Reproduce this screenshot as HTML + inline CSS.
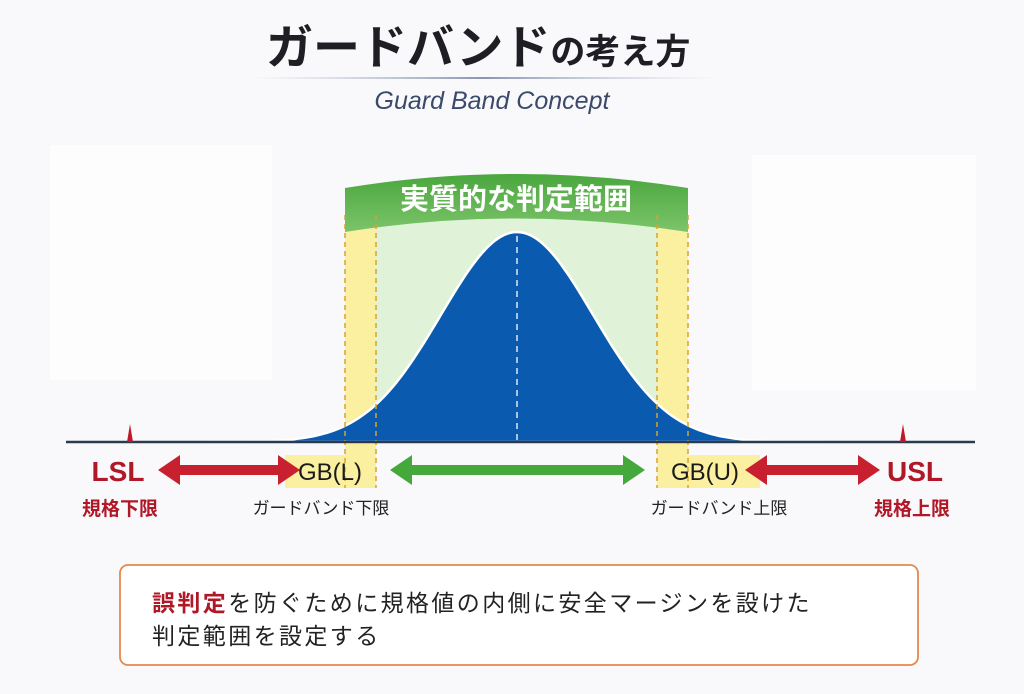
<!DOCTYPE html>
<html><head><meta charset="utf-8"><style>
html,body{margin:0;padding:0;background:#f9f9fb;}
body{width:1024px;height:694px;overflow:hidden;position:relative;font-family:"Liberation Sans","Noto Sans CJK JP",sans-serif;}
</style></head><body>
<svg width="1024" height="694" viewBox="0 0 1024 694" xmlns="http://www.w3.org/2000/svg" style="position:absolute;left:0;top:0">
<defs>
<linearGradient id="gb" x1="0" y1="0" x2="0" y2="1"><stop offset="0" stop-color="#4aa63e"/><stop offset="1" stop-color="#7cc46a"/></linearGradient>
<linearGradient id="ul" x1="0" y1="0" x2="1" y2="0"><stop offset="0" stop-color="#b8c0d0" stop-opacity="0"/><stop offset="0.5" stop-color="#8a96b0"/><stop offset="1" stop-color="#b8c0d0" stop-opacity="0"/></linearGradient>
</defs>
<rect x="50" y="145" width="222" height="235" fill="#fdfdfd"/>
<rect x="752" y="155" width="224" height="235" fill="#fdfdfd"/>
<text x="266" y="64" font-size="47" font-weight="bold" fill="#1e1e24">ガードバンド<tspan font-size="35">の考え方</tspan></text>
<rect x="250" y="77" width="466" height="2" fill="url(#ul)"/>
<text x="492" y="109" font-size="25" font-style="italic" fill="#3b4a6b" text-anchor="middle">Guard Band Concept</text>
<rect x="376" y="215" width="281" height="227" fill="#e0f3d8"/>
<rect x="345" y="215" width="31" height="273" fill="#fbf0a0"/>
<rect x="657" y="215" width="31" height="273" fill="#fbf0a0"/>
<rect x="285" y="455" width="91" height="33" fill="#fbf0a0"/>
<rect x="657" y="455" width="103" height="33" fill="#fbf0a0"/>
<path d="M345 188 Q516 160 688 188 L688 232 Q516 205 345 232 Z" fill="url(#gb)"/>
<text x="516" y="209" font-size="29" font-weight="bold" fill="#fff" text-anchor="middle">実質的な判定範囲</text>
<path id="curve" fill="#0a5bb0" stroke="#fff" stroke-width="2.5" d=""/>
<line x1="517" y1="236" x2="517" y2="441" stroke="#dfe8f5" stroke-width="1.5" stroke-dasharray="6,5"/>
<g stroke="#d9a22a" stroke-width="1.5" stroke-dasharray="5,4">
<line x1="345" y1="215" x2="345" y2="488"/><line x1="376" y1="215" x2="376" y2="488"/>
<line x1="657" y1="215" x2="657" y2="488"/><line x1="688" y1="215" x2="688" y2="488"/>
</g>
<line x1="66" y1="442" x2="975" y2="442" stroke="#2c3a4e" stroke-width="2.5"/>
<path d="M127 442 L130 424 L133 442 Z" fill="#c0182a"/>
<path d="M900 442 L903 424 L906 442 Z" fill="#c0182a"/>
<g fill="#c8202e">
<path d="M158 470 L180 455 L180 465 L278 465 L278 455 L300 470 L278 485 L278 475 L180 475 L180 485 Z"/>
<path d="M745 470 L767 455 L767 465 L858 465 L858 455 L880 470 L858 485 L858 475 L767 475 L767 485 Z"/>
</g>
<path d="M390 470 L412 455 L412 465 L623 465 L623 455 L645 470 L623 485 L623 475 L412 475 L412 485 Z" fill="#45a83a"/>
<text x="118" y="481" font-size="28" font-weight="bold" fill="#b01828" text-anchor="middle">LSL</text>
<text x="915" y="481" font-size="28" font-weight="bold" fill="#b01828" text-anchor="middle">USL</text>
<text x="330" y="480" font-size="24" fill="#1a1a1a" text-anchor="middle">GB(L)</text>
<text x="705" y="480" font-size="24" fill="#1a1a1a" text-anchor="middle">GB(U)</text>
<text x="120" y="515" font-size="19" font-weight="bold" fill="#b01828" text-anchor="middle">規格下限</text>
<text x="912" y="515" font-size="19" font-weight="bold" fill="#b01828" text-anchor="middle">規格上限</text>
<text x="321" y="514" font-size="17" fill="#222" text-anchor="middle">ガードバンド下限</text>
<text x="719" y="514" font-size="17" fill="#222" text-anchor="middle">ガードバンド上限</text>
<rect x="120" y="565" width="798" height="100" rx="8" fill="#fff" stroke="#e6884a" stroke-width="1.8"/>
<text x="152" y="611" font-size="23" letter-spacing="2.4" fill="#222"><tspan fill="#b01828" font-weight="bold">誤判定</tspan>を防ぐために規格値の内側に安全マージンを設けた</text>
<text x="152" y="644" font-size="23" letter-spacing="2.4" fill="#222">判定範囲を設定する</text>
</svg>
<script>
var s=76,c=517,b=442,h=210,d="M66 "+b;
for(var x=66;x<=975;x+=3){d+=" L"+x+" "+(b-h*Math.exp(-(x-c)*(x-c)/(2*s*s))).toFixed(1);}
d+=" L975 "+b+" Z";
document.getElementById("curve").setAttribute("d",d);
</script>
</body></html>
